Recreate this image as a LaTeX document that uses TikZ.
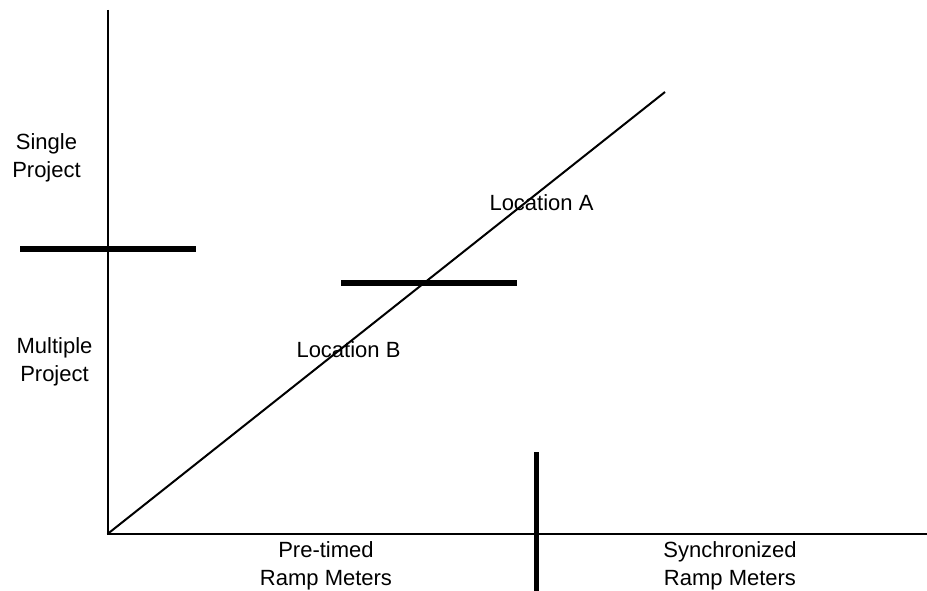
\documentclass[tikz,border=0pt]{standalone}
\usepackage{fontspec}
\setmainfont{Liberation Sans}
\begin{document}
\begin{tikzpicture}[x=1pt,y=-1pt,
  axisline/.style={line width=2pt},
  thickbar/.style={line width=5.5pt},
  lbl/.style={font=\fontsize{22}{28}\selectfont,align=center,inner sep=0pt,anchor=center}]
\useasboundingbox[fill=white] (0,0) rectangle (927,591);
% axes
\coordinate (ytop) at (107.5,10);
\coordinate (o) at (107.5,534);
\coordinate (xend) at (927,534);
\coordinate (dend) at (665,92);
\draw[axisline] (ytop) -- (o) -- (xend);
\draw[axisline] (o) -- (dend);
% thick bars
\coordinate (h1a) at (20,249);
\coordinate (h1b) at (196,249);
\coordinate (h2a) at (341,283);
\coordinate (h2b) at (517,283);
\coordinate (v1a) at (536.5,452);
\coordinate (v1b) at (536.5,591);
\draw[thickbar] (h1a) -- (h1b);
\draw[thickbar] (h2a) -- (h2b);
\draw[thickbar] (v1a) -- (v1b);
% labels
\node[lbl] (single) at (46.5,157.5) {Single\\Project};
\node[lbl] (multiple) at (54.5,362) {Multiple\\Project};
\node[lbl] (locA) at (541.5,203) {Location A};
\node[lbl] (locB) at (348.5,350) {Location B};
\node[lbl] (pre) at (326,566) {Pre-timed\\Ramp Meters};
\node[lbl] (sync) at (730,566) {Synchronized\\Ramp Meters};
\end{tikzpicture}
\end{document}
